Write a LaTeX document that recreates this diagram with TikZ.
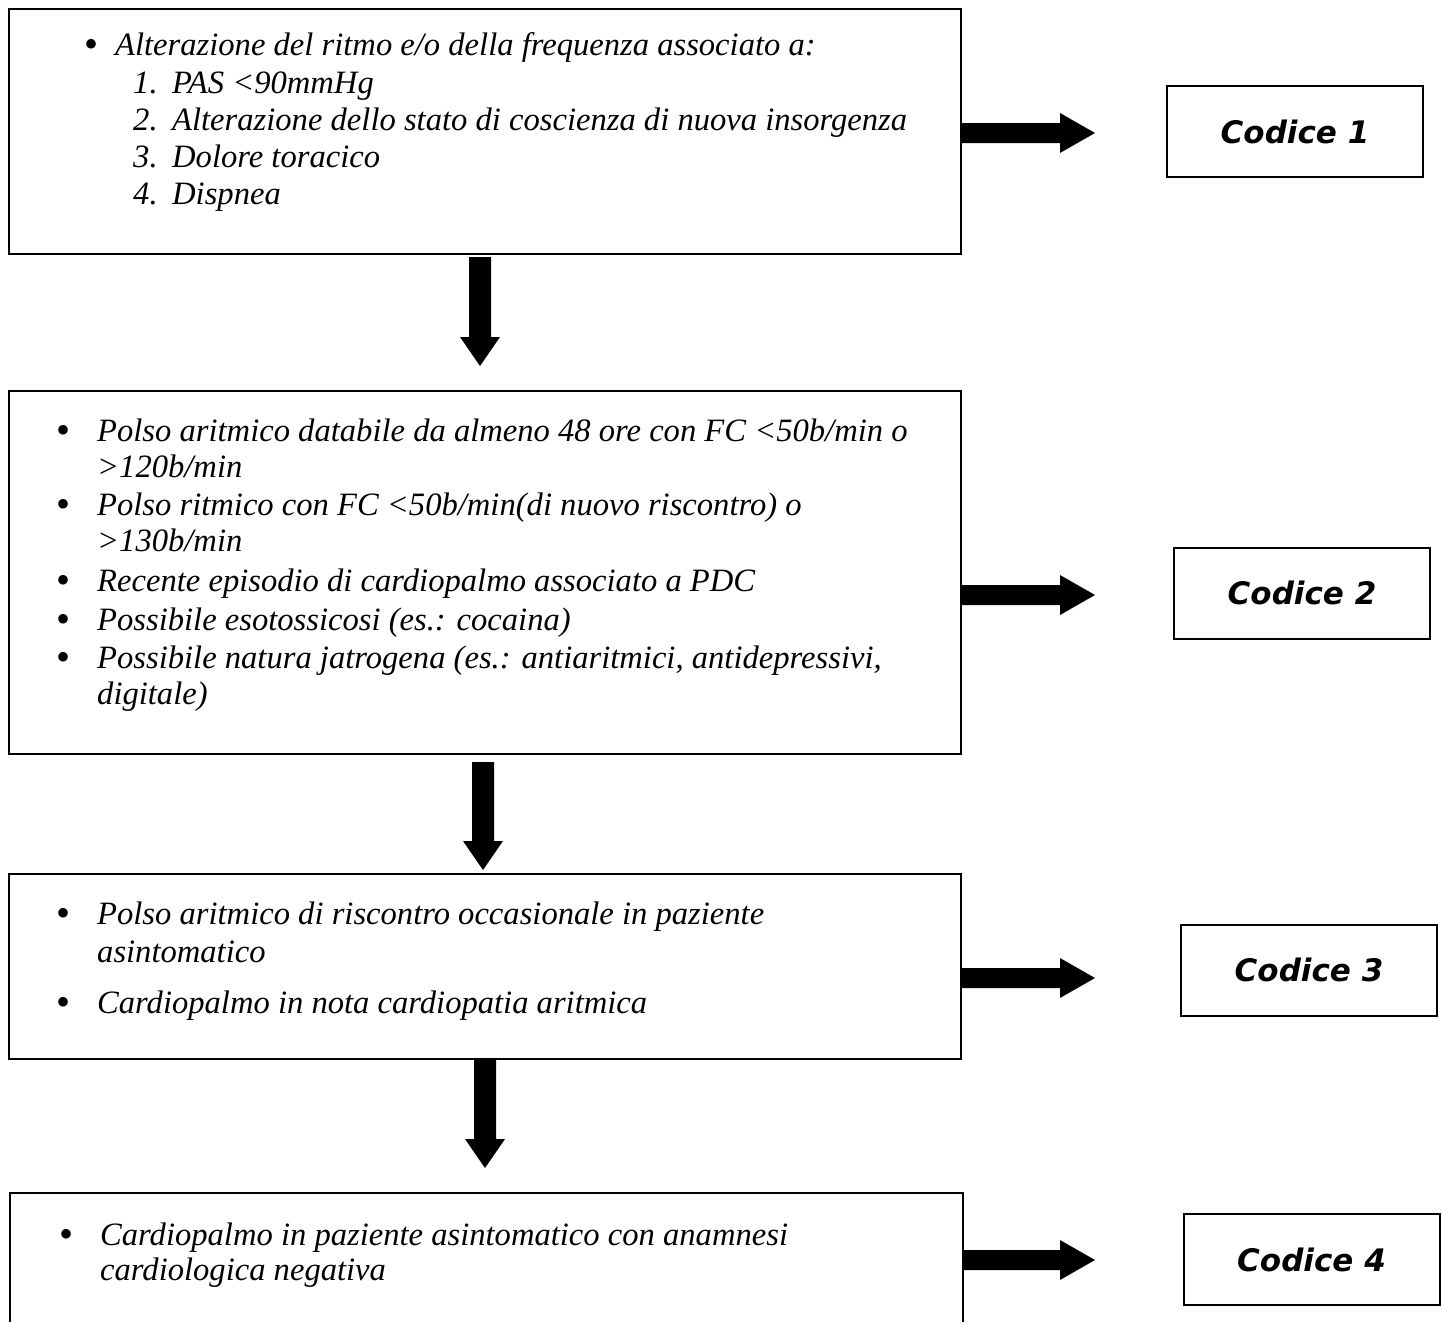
\documentclass[tikz,border=0pt]{standalone}
\usepackage{fontspec}
\setmainfont{Liberation Serif}
\newfontfamily\codefont{DejaVu Sans}
\usetikzlibrary{calc}
\newcommand\myharrow[2]{\fill ($(#1)+(0,-10)$) -- ($(#2)+(-35,-10)$) -- ($(#2)+(-35,-20)$) -- (#2) -- ($(#2)+(-35,20)$) -- ($(#2)+(-35,10)$) -- ($(#1)+(0,10)$) -- cycle;}
\newcommand\myvarrow[2]{\fill ($(#1)+(-11,0)$) -- ($(#2)+(-11,-29)$) -- ($(#2)+(-20,-29)$) -- (#2) -- ($(#2)+(20,-29)$) -- ($(#2)+(11,-29)$) -- ($(#1)+(11,0)$) -- cycle;}
\begin{document}
\begin{tikzpicture}[x=1pt,y=-1pt,
  box/.style={draw, line width=2pt, inner sep=0pt, anchor=north west},
  codebox/.style={draw, line width=2pt, inner sep=0pt, minimum width=256pt, minimum height=91pt, font=\codefont\bfseries\itshape\fontsize{31}{38}\selectfont},
  txt/.style={anchor=base west, inner sep=0pt, font=\itshape\fontsize{32.6}{38}\selectfont},
  blt/.style={anchor=base, inner sep=0pt, font=\fontsize{40}{40}\selectfont}]
\useasboundingbox[fill=white] (0,0) rectangle (1442,1322);

% main boxes
\node[box, minimum width=952pt, minimum height=245pt] (b1) at (8,8) {};
\node[box, minimum width=952pt, minimum height=363pt] (b2) at (8,390) {};
\node[box, minimum width=952pt, minimum height=185pt] (b3) at (8,873) {};
\coordinate (b4nw) at (10,1193);
\coordinate (b4ne) at (963,1193);
\coordinate (b4sw) at (10,1322);
\coordinate (b4se) at (963,1322);
\draw[line width=2pt] (b4sw) -- (b4nw) -- (b4ne) -- (b4se);

% box 1 text
\node[blt] (p1) at (92,58) {\textbullet};
\node[txt] (t1) at (115,56) {Alterazione del ritmo e/o della frequenza associato a:};
\node[txt] (n1) at (133,93) {1.};
\node[txt] (t2) at (172,93) {PAS <90mmHg};
\node[txt] (n2) at (133,130) {2.};
\node[txt] (t3) at (172,130) {Alterazione dello stato di coscienza di nuova insorgenza};
\node[txt] (n3) at (133,167) {3.};
\node[txt] (t4) at (172,167) {Dolore toracico};
\node[txt] (n4) at (133,204) {4.};
\node[txt] (t5) at (172,204) {Dispnea};

% box 2 text
\node[blt] (p2) at (64,443) {\textbullet};
\node[txt] (u1) at (97,441) {Polso aritmico databile da almeno 48 ore con FC <50b/min o};
\node[txt] (u1b) at (97,477) {>120b/min};
\node[blt] (p3) at (64,517) {\textbullet};
\node[txt] (u2) at (97,515) {Polso ritmico con FC <50b/min(di nuovo riscontro) o};
\node[txt] (u2b) at (97,551) {>130b/min};
\node[blt] (p4) at (64,593) {\textbullet};
\node[txt] (u3) at (97,591) {Recente episodio di cardiopalmo associato a PDC};
\node[blt] (p5) at (64,632) {\textbullet};
\node[txt] (u4) at (97,630) {Possibile esotossicosi (es.: cocaina)};
\node[blt] (p6) at (64,670) {\textbullet};
\node[txt] (u5) at (97,668) {Possibile natura jatrogena (es.: antiaritmici, antidepressivi,};
\node[txt] (u5b) at (97,704) {digitale)};

% box 3 text
\node[blt] (p7) at (64,926) {\textbullet};
\node[txt] (v1) at (97,924) {Polso aritmico di riscontro occasionale in paziente};
\node[txt] (v1b) at (97,962) {asintomatico};
\node[blt] (p8) at (64,1015) {\textbullet};
\node[txt] (v2) at (97,1013) {Cardiopalmo in nota cardiopatia aritmica};

% box 4 text
\node[blt] (p9) at (67,1247) {\textbullet};
\node[txt] (w1) at (100,1245) {Cardiopalmo in paziente asintomatico con anamnesi};
\node[txt] (w1b) at (100,1280) {cardiologica negativa};

% code boxes
\node[codebox] (c1) at (1295,131.5) {Codice 1};
\node[codebox] (c2) at (1302,593) {Codice 2};
\node[codebox] (c3) at (1309,970) {Codice 3};
\node[codebox] (c4) at (1311.5,1259.5) {Codice 4};

% right arrows
\coordinate (r1s) at (b1.east |- 0,133);
\coordinate (r1e) at (1095,133);
\coordinate (r2s) at (b2.east |- 0,595);
\coordinate (r2e) at (1095,595);
\coordinate (r3s) at (b3.east |- 0,978);
\coordinate (r3e) at (1095,978);
\coordinate (r4s) at (b4ne |- 0,1260);
\coordinate (r4e) at (1095,1260);
\myharrow{r1s}{r1e}
\myharrow{r2s}{r2e}
\myharrow{r3s}{r3e}
\myharrow{r4s}{r4e}

% down arrows
\coordinate (d1s) at (480,257);
\coordinate (d1e) at (480,366);
\coordinate (d2s) at (483,762);
\coordinate (d2e) at (483,870);
\coordinate (d3s) at (485,1060);
\coordinate (d3e) at (485,1168);
\myvarrow{d1s}{d1e}
\myvarrow{d2s}{d2e}
\myvarrow{d3s}{d3e}
\end{tikzpicture}
\end{document}
